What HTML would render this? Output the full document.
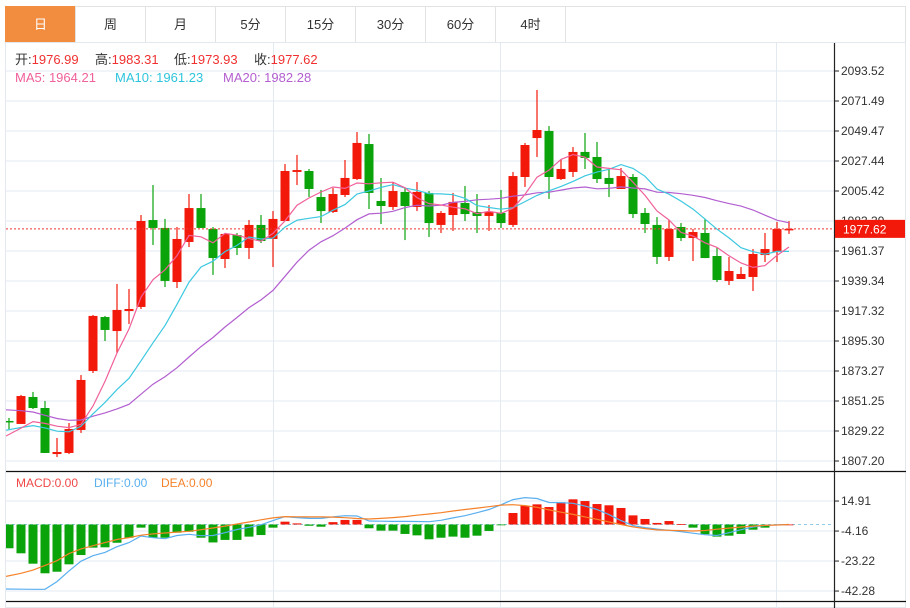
<!DOCTYPE html>
<html><head><meta charset="utf-8">
<style>
html,body{margin:0;padding:0;background:#fff;width:910px;height:608px;overflow:hidden;font-family:"Liberation Sans","Noto Sans CJK SC",sans-serif;}
svg{display:block}
</style></head>
<body>
<svg id="chart" width="910" height="608" viewBox="0 0 910 608" xmlns="http://www.w3.org/2000/svg" font-family="Liberation Sans, Noto Sans CJK SC, sans-serif">
  <g id="tabs"></g>
  <g id="grid"></g>
  <g id="candles"></g>
  <g id="mas"></g>
  <g id="macd"></g>
  <g id="axis"></g>
  <g font-size="13">
    <text x="15" y="64" fill="#333">开:<tspan fill="#f03030">1976.99</tspan></text>
    <text x="95" y="64" fill="#333">高:<tspan fill="#f03030">1983.31</tspan></text>
    <text x="174" y="64" fill="#333">低:<tspan fill="#f03030">1973.93</tspan></text>
    <text x="254" y="64" fill="#333">收:<tspan fill="#f03030">1977.62</tspan></text>
  </g>
  <g font-size="13">
    <text x="15" y="82" fill="#f0609a">MA5: 1964.21</text>
    <text x="115" y="82" fill="#2ec5dd">MA10: 1961.23</text>
    <text x="223" y="82" fill="#b35fd0">MA20: 1982.28</text>
  </g>
  <g font-size="12">
    <text x="16" y="487" fill="#f04848">MACD:0.00</text>
    <text x="94" y="487" fill="#5aafef">DIFF:0.00</text>
    <text x="161" y="487" fill="#f5822a">DEA:0.00</text>
  </g>
</svg>
<script>
const tabLabels = ["日","周","月","5分","15分","30分","60分","4时"];
const priceTicks = [2093.52,2071.49,2049.47,2027.44,2005.42,1983.39,1961.37,1939.34,1917.32,1895.30,1873.27,1851.25,1829.22,1807.20];
const macdTicks = [14.91,-4.16,-23.22,-42.28];
const priorCloses = [1868,1865,1862,1860,1858,1862,1858,1855,1860,1850,1835,1832,1830,1838,1835,1826,1822,1820,1824];
const opens  = [1836.6,1834.4,1854.2,1846.1,1812.3,1813.1,1830.0,1873.3,1912.9,1902.6,1917.3,1920.3,1984.1,1978.3,1938.6,1968.0,1992.9,1977.5,1955.5,1973.1,1963.6,1980.5,1970.2,1983.4,2019.4,2020.1,2001.0,1990.0,2002.5,2014.2,2039.9,1998.1,1993.7,2004.7,1993.7,2004.0,1980.5,1987.8,1996.6,1990.0,1987.1,1989.3,1980.5,2015.7,2044.3,2049.5,2014.2,2019.4,2034.1,2030.4,2015.0,2006.9,2015.7,1989.3,1980.5,1957.0,1979.0,1970.9,1974.6,1957.7,1939.4,1940.8,1942.3,1958.4,1960.6,1976.99];
const closes = [1835.8,1854.9,1846.1,1813.1,1813.8,1830.7,1866.7,1913.7,1903.4,1918.1,1918.8,1983.4,1978.3,1939.4,1970.2,1992.9,1978.3,1956.2,1973.9,1963.6,1980.5,1968.7,1984.9,2020.1,2020.8,2006.9,1990.7,2003.2,2015.0,2040.7,2004.0,1994.4,2005.4,1994.4,2004.7,1981.9,1989.3,1997.4,1988.5,1987.1,1990.0,1981.9,2016.4,2039.2,2050.2,2015.7,2021.6,2034.1,2029.7,2014.2,2010.6,2016.4,1988.5,1981.2,1957.0,1977.5,1970.9,1975.3,1956.2,1940.1,1946.7,1944.5,1959.2,1962.8,1977.5,1977.62];
const highs  = [1838.8,1855.7,1857.9,1851.3,1824.1,1835.1,1870.3,1914.4,1913.7,1937.2,1933.5,1987.8,2009.8,1984.9,1979.0,2003.2,2003.2,1979.0,1974.6,1974.6,1984.1,1987.8,1990.7,2025.2,2031.9,2021.6,2006.2,2007.6,2028.2,2048.7,2047.3,2015.0,2012.0,2007.6,2012.0,2005.4,1990.7,2004.0,2009.1,2003.2,1995.1,2006.2,2019.4,2040.7,2079.6,2053.1,2028.9,2037.7,2048.0,2041.4,2022.3,2022.3,2017.9,1992.9,1986.3,1984.1,1981.9,1977.5,1984.9,1963.6,1957.0,1949.6,1962.8,1974.6,1982.7,1983.31];
const lows   = [1830.0,1834.4,1845.4,1813.1,1810.1,1812.3,1827.8,1871.8,1895.3,1886.5,1907.8,1918.8,1965.8,1934.9,1934.2,1964.3,1978.3,1943.8,1948.9,1958.4,1955.5,1967.2,1949.6,1983.4,2009.8,2001.0,1981.9,1989.3,2001.0,2013.5,1992.2,1981.2,1991.5,1969.4,1990.7,1971.7,1974.6,1976.1,1983.4,1974.6,1976.1,1978.3,1979.0,2008.4,2030.4,1999.6,2013.5,2015.7,2021.6,2011.3,2001.0,2006.9,1985.6,1974.6,1951.8,1954.0,1968.7,1954.0,1956.2,1938.6,1936.4,1940.8,1932.0,1953.3,1953.3,1973.93];
const macdHist = [-15.1,-18.3,-24.9,-31.0,-30.0,-25.3,-19.4,-14.7,-14.5,-11.6,-8.4,-2.0,-8.4,-8.4,-5.2,-4.6,-8.4,-11.4,-9.8,-9.8,-7.7,-6.7,-2.0,1.8,0.7,-0.8,-1.4,1.5,2.9,2.9,-2.4,-3.9,-3.9,-6.0,-6.9,-9.4,-8.4,-7.7,-8.4,-7.1,-4.1,-0.3,7.3,12.0,12.8,11.1,14.1,16.0,14.9,13.0,12.2,10.5,5.8,3.5,1.0,2.2,0.2,-2.0,-6.2,-7.7,-7.1,-6.0,-3.3,-2.0,-0.3,0];
const diffVals = [-41.0,-41.1,-41.2,-41.2,-36.3,-29.5,-23.3,-19.8,-17.7,-14.1,-11.5,-7.3,-8.4,-9.0,-7.0,-6.2,-7.1,-7.0,-5.2,-3.2,-1.8,-0.2,2.5,5.0,4.4,3.9,3.9,4.8,5.6,5.4,2.2,2.1,2.0,2.0,1.9,1.8,2.7,4.2,5.6,7.5,9.5,12.5,15.8,17.1,16.5,14.0,13.9,13.5,11.7,9.5,6.3,2.5,-0.7,-2.0,-2.9,-3.7,-4.6,-5.5,-6.5,-7.0,-5.2,-3.3,-1.6,-0.6,-0.2,0];
const deaVals = [-33.0,-31.0,-29.0,-26.0,-23.0,-18.5,-15.5,-13.5,-11.5,-9.5,-8.3,-6.8,-6.0,-5.4,-4.8,-4.3,-3.3,-2.2,-1.0,0.3,1.6,3.0,4.2,5.0,4.9,4.8,4.8,4.7,4.3,3.8,3.5,3.9,4.4,5.0,5.9,6.7,7.5,8.6,9.5,10.4,11.3,12.3,12.6,12.0,10.9,9.3,7.8,6.4,4.8,3.3,1.6,0,-1.5,-2.6,-3.4,-3.7,-3.9,-4.1,-3.8,-3.0,-2.3,-1.6,-1.0,-0.6,-0.3,0];
const lastPrice = 1977.62;

const NS = "http://www.w3.org/2000/svg";
function mk(parent, tag, attrs){ const e=document.createElementNS(NS,tag); for(const k in attrs) e.setAttribute(k,attrs[k]); parent.appendChild(e); return e; }
const L=6, R=834;
const xOf = i => 9 + 12*i;
const yP = p => 71 + (2093.52 - p) / 22.0246 * 30;
const yM = v => 524.5 - v * 30 / 19.06;

// tabs
const tabs=document.getElementById('tabs');
mk(tabs,'rect',{x:5.5,y:6.5,width:900,height:36,fill:'#fff',stroke:'#e2e2e2'});
tabLabels.forEach((t,i)=>{
  const g=mk(tabs,'g',{});
  
  
  mk(g,'rect',{x:5.5+70*i,y:6.5,width:70,height:36,fill:i===0?'#f28c3f':'#fff',stroke:i===0?'#f28c3f':'#e2e2e2'});
  const tx=mk(g,'text',{x:40.5+70*i,y:29,'text-anchor':'middle','font-size':13,fill:i===0?'#fff':'#333'});
  tx.textContent=t;
});

// grid
const grid=document.getElementById('grid');
mk(grid,'rect',{x:5.5,y:42.5,width:900,height:565,fill:'none',stroke:'#e2e8ee'});
priceTicks.forEach(p=>{ mk(grid,'line',{x1:L,x2:R,y1:yP(p),y2:yP(p),stroke:'#e3e9f0','stroke-width':1}); });
macdTicks.forEach(v=>{ mk(grid,'line',{x1:L,x2:R,y1:yM(v),y2:yM(v),stroke:'#e3e9f0','stroke-width':1}); });
[273.5,500.5,776.5].forEach(x=>{ mk(grid,'line',{x1:x,x2:x,y1:43,y2:608,stroke:'#e3e9f0','stroke-width':1}); });

// candles
const cg=document.getElementById('candles');
const cp=mk(cg,'clipPath',{id:'mainclip'}); mk(cp,'rect',{x:L,y:43,width:R-L,height:428});
cg.setAttribute('clip-path','url(#mainclip)');
opens.forEach((o,i)=>{
  const c=closes[i], up=c>=o, col=up?'#f2190a':'#0aa30a', x=xOf(i);
  const g=mk(cg,'g',{});
  
  
  mk(g,'line',{x1:x,x2:x,y1:yP(highs[i]),y2:yP(lows[i]),stroke:col,'stroke-width':1.2});
  const top=yP(Math.max(o,c)), bot=yP(Math.min(o,c));
  mk(g,'rect',{x:x-4.5,y:top,width:9,height:Math.max(1.5,bot-top),fill:col});
});
// last price line
const lp=mk(cg,'line',{x1:L,x2:R,y1:yP(lastPrice),y2:yP(lastPrice),stroke:'#f03030','stroke-dasharray':'2,2','stroke-width':1});



// MAs
const all=priorCloses.concat(closes);
function ma(n){ return closes.map((_,i)=>{ const j=i+priorCloses.length; let s=0; for(let k=j-n+1;k<=j;k++) s+=all[k]; return s/n; }); }
const mg=document.getElementById('mas');
mg.setAttribute('clip-path','url(#mainclip)');
[[20,'#b35fd0','ma20-line'],[10,'#3cc8e0','ma10-line'],[5,'#f0609a','ma5-line']].forEach(([n,col,name])=>{
  const v=ma(n);
  const pl=mk(mg,'polyline',{points:v.map((p,i)=>(i===0?L:xOf(i))+','+yP(p).toFixed(1)).join(' '),fill:'none',stroke:col,'stroke-width':1.2});
  
  
});

// MACD
const mcg=document.getElementById('macd');
const cp2=mk(mcg,'clipPath',{id:'macdclip'}); mk(cp2,'rect',{x:L,y:472,width:R-L,height:129});
const inner=mk(mcg,'g',{'clip-path':'url(#macdclip)'});
mk(inner,'line',{x1:L,x2:R,y1:yM(0),y2:yM(0),stroke:'#8fcde6','stroke-dasharray':'3,3'});
macdHist.forEach((v,i)=>{
  const x=xOf(i), y0=yM(0), y1=yM(v);
  const r=mk(inner,'rect',{x:x-4.5,y:Math.min(y0,y1),width:9,height:Math.max(0.8,Math.abs(y1-y0)),fill:v>=0?'#f2190a':'#0aa30a'});
  
  
});
[[diffVals,'#5aafef','diff-line'],[deaVals,'#f5822a','dea-line']].forEach(([arr,col,name])=>{
  const pl=mk(inner,'polyline',{points:arr.map((v,i)=>(i===0?L:xOf(i))+','+yM(v).toFixed(1)).join(' '),fill:'none',stroke:col,'stroke-width':1.2});
  
  
});
mk(mcg,'line',{x1:L,x2:906,y1:471.5,y2:471.5,stroke:'#111','stroke-width':1.2});
mk(mcg,'line',{x1:L,x2:906,y1:601.5,y2:601.5,stroke:'#111','stroke-width':1.2});

// axis
const ax=document.getElementById('axis');
mk(ax,'line',{x1:834.5,x2:834.5,y1:43,y2:608,stroke:'#222','stroke-width':1.2});
priceTicks.forEach(p=>{
  const y=yP(p);
  mk(ax,'line',{x1:834,x2:839,y1:y,y2:y,stroke:'#222'});
  const t=mk(ax,'text',{x:841,y:y+4,'font-size':12,fill:'#333'}); t.textContent=p.toFixed(2);
  
  
});
macdTicks.forEach(v=>{
  const y=yM(v);
  mk(ax,'line',{x1:834,x2:839,y1:y,y2:y,stroke:'#222'});
  const t=mk(ax,'text',{x:841,y:y+4,'font-size':12,fill:'#333'}); t.textContent=v.toFixed(2);
  
  
});
const tag=mk(ax,'g',{});


mk(tag,'rect',{x:835,y:yP(lastPrice)-9,width:70,height:18,fill:'#f2190a'});
const tt=mk(tag,'text',{x:843,y:yP(lastPrice)+4.5,'font-size':12,fill:'#fff'}); tt.textContent=lastPrice.toFixed(2);
</script>
</body></html>
